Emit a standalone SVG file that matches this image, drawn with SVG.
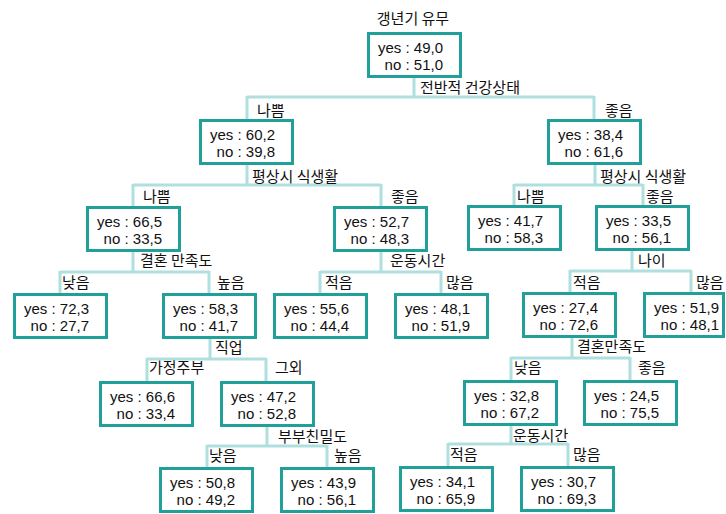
<svg xmlns="http://www.w3.org/2000/svg" width="726" height="514" viewBox="0 0 726 514">
<style>
  text { font-family: "Liberation Sans", "Noto Sans CJK KR", sans-serif; font-size: 15px; fill: #111; }
  .k { font-family: "Noto Sans CJK KR", "Liberation Sans", sans-serif; font-size: 15px; }
  .box { fill: #fff; stroke: #21a09a; stroke-width: 3; }
  .con { fill: none; stroke: #b0dfdf; stroke-width: 3; }
  .v { text-anchor: end; }
  .t { text-anchor: middle; }
</style>
<rect width="726" height="514" fill="#fff"/>
<g id="connectors">
  <path class="con" d="M414,78V97M247,97H594M247,96V119M594,96V119"/>
  <path class="con" d="M247,164V185M133,185H381M133,184V206M381,184V206"/>
  <path class="con" d="M595,164V185M514,185H643M514,184V205M643,184V205"/>
  <path class="con" d="M133,251V272M60,272H209M60,271V293M209,271V293"/>
  <path class="con" d="M381,251V272M320,272H441M320,271V293M441,271V293"/>
  <path class="con" d="M632,250V271M570,271H691M570,270V292M691,270V292"/>
  <path class="con" d="M210,338V359M147,359H266M147,358V381M266,358V381"/>
  <path class="con" d="M572,337V358M511,358H630M511,357V380M630,357V380"/>
  <path class="con" d="M267,426V446M207,446H327M207,445V467M327,445V467"/>
  <path class="con" d="M511,425V444M448,444H568M448,443V466M568,443V466"/>
  <g id="edge-labels">
    <text class="k" x="257" y="116">나쁨</text>
    <text class="k" x="605" y="116">좋음</text>
    <text class="k" x="143" y="202">나쁨</text>
    <text class="k" x="391" y="202">좋음</text>
    <text class="k" x="517" y="202">나쁨</text>
    <text class="k" x="646" y="202">좋음</text>
    <text class="k" x="62" y="288">낮음</text>
    <text class="k" x="217" y="288">높음</text>
    <text class="k" x="325" y="288">적음</text>
    <text class="k" x="446" y="288">많음</text>
    <text class="k" x="573" y="288">적음</text>
    <text class="k" x="696" y="288">많음</text>
    <text class="k" x="149" y="373">가정주부</text>
    <text class="k" x="275" y="373">그외</text>
    <text class="k" x="514" y="373">낮음</text>
    <text class="k" x="638" y="373">좋음</text>
    <text class="k" x="209" y="461">낮음</text>
    <text class="k" x="334" y="461">높음</text>
    <text class="k" x="450" y="460">적음</text>
    <text class="k" x="573" y="460">많음</text>
  </g>
</g>
<g id="root">
  <text class="k t" x="413" y="24">갱년기 유무</text>
  <rect class="box" x="368.5" y="33.5" width="92" height="43"/>
  <text class="v" x="443" y="53">yes : 49,0</text>
  <text class="v" x="443" y="70">no : 51,0</text>
  <text class="k" x="420" y="93">전반적 건강상태</text>
</g>
<g id="nA">
  <rect class="box" x="200.5" y="120.5" width="92" height="43"/>
  <text class="v" x="275" y="140">yes : 60,2</text>
  <text class="v" x="275" y="157">no : 39,8</text>
  <text class="k" x="252" y="182">평상시 식생활</text>
</g>
<g id="nB">
  <rect class="box" x="548.5" y="120.5" width="92" height="43"/>
  <text class="v" x="623" y="140">yes : 38,4</text>
  <text class="v" x="623" y="157">no : 61,6</text>
  <text class="k" x="600" y="182">평상시 식생활</text>
</g>
<g id="nC">
  <rect class="box" x="87.5" y="207.5" width="92" height="43"/>
  <text class="v" x="162" y="227">yes : 66,5</text>
  <text class="v" x="162" y="244">no : 33,5</text>
  <text class="k" x="140" y="266">결혼 만족도</text>
</g>
<g id="nD">
  <rect class="box" x="334.5" y="207.5" width="92" height="43"/>
  <text class="v" x="409" y="227">yes : 52,7</text>
  <text class="v" x="409" y="244">no : 48,3</text>
  <text class="k" x="390" y="266">운동시간</text>
</g>
<g id="nE">
  <rect class="box" x="468.5" y="206.5" width="92" height="43"/>
  <text class="v" x="543" y="226">yes : 41,7</text>
  <text class="v" x="543" y="243">no : 58,3</text>
</g>
<g id="nF">
  <rect class="box" x="596.5" y="206.5" width="92" height="43"/>
  <text class="v" x="671" y="226">yes : 33,5</text>
  <text class="v" x="671" y="243">no : 56,1</text>
  <text class="k" x="638" y="266">나이</text>
</g>
<g id="nG">
  <rect class="box" x="14.5" y="294.5" width="92" height="43"/>
  <text class="v" x="89" y="314">yes : 72,3</text>
  <text class="v" x="89" y="331">no : 27,7</text>
</g>
<g id="nH">
  <rect class="box" x="163.5" y="294.5" width="92" height="43"/>
  <text class="v" x="238" y="314">yes : 58,3</text>
  <text class="v" x="238" y="331">no : 41,7</text>
  <text class="k" x="215" y="353">직업</text>
</g>
<g id="nI">
  <rect class="box" x="274.5" y="294.5" width="92" height="43"/>
  <text class="v" x="349" y="314">yes : 55,6</text>
  <text class="v" x="349" y="331">no : 44,4</text>
</g>
<g id="nJ">
  <rect class="box" x="395.5" y="294.5" width="92" height="43"/>
  <text class="v" x="470" y="314">yes : 48,1</text>
  <text class="v" x="470" y="331">no : 51,9</text>
</g>
<g id="nK">
  <rect class="box" x="523.5" y="293.5" width="92" height="43"/>
  <text class="v" x="598" y="313">yes : 27,4</text>
  <text class="v" x="598" y="330">no : 72,6</text>
  <text class="k" x="577" y="352">결혼만족도</text>
</g>
<g id="nL">
  <rect class="box" x="644.5" y="293.5" width="79" height="43"/>
  <text class="v" x="719" y="313">yes : 51,9</text>
  <text class="v" x="719" y="330">no : 48,1</text>
</g>
<g id="nM">
  <rect class="box" x="100.5" y="382.5" width="92" height="43"/>
  <text class="v" x="175" y="402">yes : 66,6</text>
  <text class="v" x="175" y="419">no : 33,4</text>
</g>
<g id="nN">
  <rect class="box" x="221.5" y="382.5" width="92" height="43"/>
  <text class="v" x="296" y="402">yes : 47,2</text>
  <text class="v" x="296" y="419">no : 52,8</text>
  <text class="k" x="278" y="442">부부친밀도</text>
</g>
<g id="nO">
  <rect class="box" x="464.5" y="381.5" width="92" height="43"/>
  <text class="v" x="539" y="401">yes : 32,8</text>
  <text class="v" x="539" y="418">no : 67,2</text>
  <text class="k" x="513" y="441">운동시간</text>
</g>
<g id="nP">
  <rect class="box" x="584.5" y="381.5" width="92" height="43"/>
  <text class="v" x="659" y="401">yes : 24,5</text>
  <text class="v" x="659" y="418">no : 75,5</text>
</g>
<g id="nQ">
  <rect class="box" x="160.5" y="468.5" width="92" height="43"/>
  <text class="v" x="235" y="488">yes : 50,8</text>
  <text class="v" x="235" y="505">no : 49,2</text>
</g>
<g id="nR">
  <rect class="box" x="281.5" y="468.5" width="92" height="43"/>
  <text class="v" x="356" y="488">yes : 43,9</text>
  <text class="v" x="356" y="505">no : 56,1</text>
</g>
<g id="nS">
  <rect class="box" x="400.5" y="467.5" width="92" height="43"/>
  <text class="v" x="475" y="487">yes : 34,1</text>
  <text class="v" x="475" y="504">no : 65,9</text>
</g>
<g id="nT">
  <rect class="box" x="521.5" y="467.5" width="92" height="43"/>
  <text class="v" x="596" y="487">yes : 30,7</text>
  <text class="v" x="596" y="504">no : 69,3</text>
</g>
</svg>
